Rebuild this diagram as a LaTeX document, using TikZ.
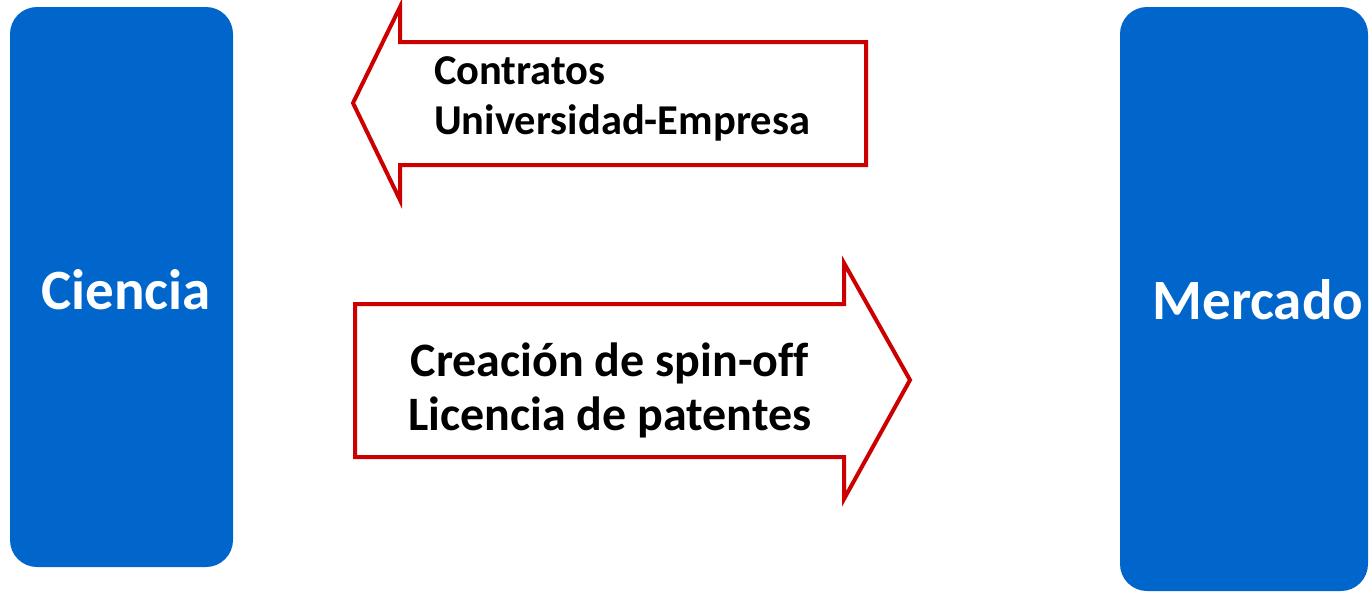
\documentclass[tikz,border=0pt]{standalone}
\usepackage{fontspec}
\setmainfont{Carlito}[Ligatures=NoCommon]
\usetikzlibrary{positioning}
\definecolor{boxblue}{RGB}{0,102,204}
\definecolor{arrowred}{RGB}{204,0,0}

\begin{document}
\begin{tikzpicture}[x=1pt,y=-1pt,block/.style={fill=boxblue,rounded corners=27pt,inner sep=0pt},blocktext/.style={text=white,font=\bfseries\fontsize{57}{60}\selectfont},flow/.style={draw=arrowred,line width=4pt,fill=white,line join=miter},flowtext/.style={font=\bfseries\fontsize{42.5}{50}\selectfont,inner sep=0pt}]
		\useasboundingbox (0,0) rectangle (1371,592);

		% the two blocks
		\node[block,minimum width=223pt,minimum height=560pt]	(ciencia)	at (121.5,287)	{};
		\node[block,minimum width=248pt,minimum height=584pt]	(mercado)	at (1244,299)	{};
		\node[blocktext]	(cienciatext)	at (126,290)	{Ciencia};
		\node[blocktext]	(mercadotext)	at (1258,300)	{Mercado};

		% arrow to the left
		\draw[flow] (866,42) -- (400,42) -- (400,7) -- (353,103) -- (400,200) -- (400,165) -- (866,165) -- cycle;
		\node[flowtext,align=left,anchor=north west]	(contratos)	at (434,56)	{Contratos\\Universidad-Empresa};

		% arrow to the right
		\draw[flow] (355,304) -- (844,304) -- (844,263) -- (910,380) -- (844,499) -- (844,457) -- (355,457) -- cycle;
		\node[flowtext,align=center,font=\bfseries\fontsize{48}{54}\selectfont]	(spinoff)	at (610,390)	{Creación de spin-off\\Licencia de patentes};
\end{tikzpicture}
\end{document}
